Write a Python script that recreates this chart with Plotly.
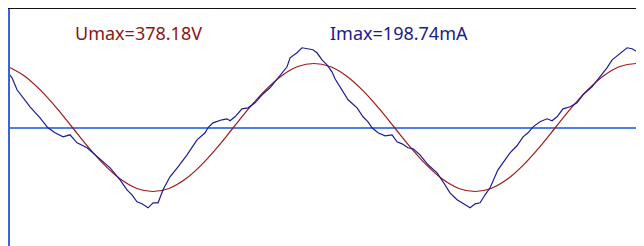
import plotly.graph_objects as go

# Voltage trace (time in ms, volts)
u_time = [0, 1, 2, 3, 4, 5, 6, 7, 8, 9, 10, 11, 12, 13, 14, 15, 16, 17, 18, 19,
          20, 21, 22, 23, 24, 25, 26, 27, 28, 29, 30, 31, 32, 33, 34, 35, 36, 37, 38, 39, 39.5]
u_volts = [360, 306, 222, 117, 0, -117, -222, -306, -360, -378, -360, -306, -222, -117, 0,
           117, 222, 306, 360, 378, 360, 306, 222, 117, 0, -117, -222, -306, -360, -378,
           -360, -306, -222, -117, 0, 117, 222, 306, 360, 378, 374]

# Current trace (time in ms, mA)
i_time = [0, 0.25, 0.56, 0.93, 1.37, 1.99, 2.48, 2.92, 3.42, 3.85, 4.29, 4.91, 5.40, 5.71,
          6.34, 6.96, 7.39, 7.70, 8.01, 8.32, 8.70, 9.01, 9.32, 9.63, 10.06, 10.56, 11.12,
          11.74, 11.93, 12.24, 12.42, 12.73, 13.29, 13.60, 13.79, 14.10, 14.53, 14.91, 15.34,
          15.78, 16.27, 16.89, 17.33, 17.52, 17.95, 18.26, 18.63, 18.94, 19.19, 19.50, 19.81,
          20.12, 20.31, 20.75, 21.12, 21.68, 22.05, 22.36, 22.61, 22.98, 23.42, 23.85, 24.16,
          24.47, 24.84, 25.16, 25.59, 26.09, 26.65, 27.02, 27.45, 27.89, 28.20, 28.70, 29.01,
          29.32, 29.63, 29.94, 30.43, 30.87, 31.18, 31.61, 31.99, 32.30, 32.61, 33.04, 33.48,
          33.79, 34.10, 34.47, 34.91, 35.34, 35.71, 36.27, 36.77, 37.20, 37.52, 37.83, 38.14,
          38.45, 38.76, 39.07, 39.44]
i_milliamps = [136.4, 124.0, 94.0, 74.1, 51.6, 24.2, -0.7, -13.2, -23.2, -18.2, -38.2, -50.6,
               -68.1, -78.1, -100.5, -130.4, -155.4, -167.8, -185.3, -190.3, -200.3, -187.8,
               -187.8, -155.4, -123.0, -98.0, -68.1, -30.7, -23.2, -13.2, -0.7, 11.7, 19.2,
               21.7, 16.7, 26.7, 46.6, 49.1, 61.6, 81.6, 99.0, 128.9, 151.4, 173.8, 186.3,
               198.8, 196.3, 193.8, 186.3, 168.8, 156.4, 138.9, 121.5, 94.0, 69.1, 49.1, 26.7,
               14.2, -0.7, -13.2, -20.7, -18.2, -35.7, -40.7, -50.6, -53.1, -68.1, -93.0,
               -113.0, -135.4, -162.9, -180.3, -187.8, -200.3, -190.3, -187.8, -167.8, -150.4,
               -105.5, -80.6, -63.1, -45.6, -23.2, -13.2, 1.7, 14.2, 21.7, 16.7, 26.7, 46.6,
               51.6, 61.6, 81.6, 101.5, 126.4, 148.9, 168.8, 178.8, 188.8, 198.8, 196.3, 188.8,
               168.8]

labels = ["Umax=378.18V", "Imax=198.74mA"]

fig = go.Figure()
fig.add_trace(go.Scatter(x=u_time, y=u_volts, mode="lines", line=dict(color="#9e1a1a", width=1.2, shape="spline"),
                         yaxis="y", hoverinfo="skip"))
fig.add_trace(go.Scatter(x=i_time, y=i_milliamps, mode="lines", line=dict(color="#1c1c96", width=1.2),
                         yaxis="y2", hoverinfo="skip"))

fig.update_layout(
    width=636, height=238, autosize=False,
    margin=dict(l=2, r=0, t=1, b=0),
    paper_bgcolor="white", plot_bgcolor="white",
    showlegend=False,
    xaxis=dict(range=[0.124, 39.5], side="top", showgrid=False, zeroline=False, showticklabels=False,
               ticks="", showline=True, linecolor="#111111", linewidth=1),
    yaxis=dict(range=[-700, 700], showgrid=False, zeroline=True, zerolinecolor="#4f7fe6", zerolinewidth=1.6,
               showticklabels=False, ticks="", showline=True, linecolor="#3f63d6", linewidth=2),
    yaxis2=dict(range=[-295.5, 295.5], overlaying="y", showgrid=False, zeroline=False,
                showticklabels=False, ticks="", showline=False),
    annotations=[
        dict(text=labels[0], xref="paper", yref="paper", x=0.0994, y=0.899, xanchor="left", yanchor="middle",
             showarrow=False, font=dict(family="Noto Sans", size=18, color="#8b1616")),
        dict(text=labels[1], xref="paper", yref="paper", x=0.5016, y=0.899, xanchor="left", yanchor="middle",
             showarrow=False, font=dict(family="Noto Sans", size=18, color="#1a1a8c")),
    ],
)

fig.write_html("out.html")
